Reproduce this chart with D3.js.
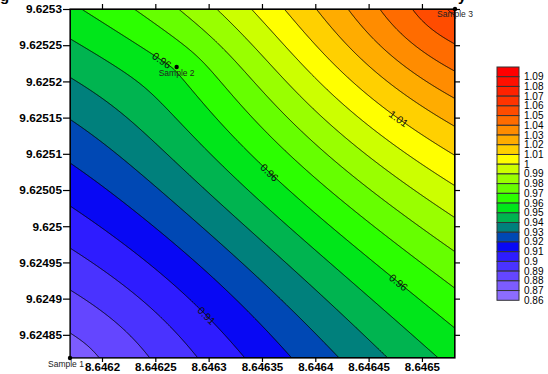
<!DOCTYPE html>
<html><head><meta charset="utf-8">
<script src="https://cdn.jsdelivr.net/npm/d3@7"></script>
<style>
body{margin:0;background:#fff;}
svg{display:block;font-family:"Liberation Sans",Arial,sans-serif;}
</style>
</head><body>
<svg id="chart" width="548" height="374"></svg>
<script>
// ---------- data ----------
const sampleNames = ["Sample 1", "Sample 2", "Sample 3"];
const sampleX = [8.64617, 8.64627, 8.646531];
const sampleY = [9.624818, 9.62522, 9.6253];
const sampleZ = [0.8748, 0.9612, 1.0619];

const levels = [0.86,0.87,0.88,0.89,0.90,0.91,0.92,0.93,0.94,0.95,0.96,0.97,0.98,0.99,1.00,1.01,1.02,1.03,1.04,1.05,1.06,1.07,1.08,1.09];
const levelColors = ["#8c6cff","#7c5cff","#6446ff","#4a33ff","#2e1cff","#0808f4","#0048b4","#00807c","#00b450","#00e61a",
  "#2cff00","#66ff00","#99ff00","#ccff00","#ffff00","#ffd000","#ffac00","#ff8c00","#ff6c00","#ff4c00",
  "#ff3400","#ff2200","#ff1000","#ff0000"];

const xTicks = [8.6462, 8.64625, 8.6463, 8.64635, 8.6464, 8.64645, 8.6465];
const xTickLabels = ["8.6462","8.64625","8.6463","8.64635","8.6464","8.64645","8.6465"];
const yTicks = [9.6253, 9.62525, 9.6252, 9.62515, 9.6251, 9.62505, 9.625, 9.62495, 9.6249, 9.62485];
const yTickLabels = ["9.6253","9.62525","9.6252","9.62515","9.6251","9.62505","9.625","9.62495","9.6249","9.62485"];

const contourLabelValues = [0.96, 0.96, 0.96, 1.01, 0.91];
const contourLabelX = [8.646256, 8.646357, 8.646478, 8.646478, 8.646298];

const variogramPower = 1.3; // kriging variogram: gamma(h) = h^p

// ---------- layout ----------
const L = 70, R = 455, T = 9, B = 358;
const svg = d3.select("#chart");
const x = d3.scaleLinear().domain([d3.min(sampleX), d3.max(sampleX)]).range([L, R]);
const y = d3.scaleLinear().domain([d3.min(sampleY), d3.max(sampleY)]).range([B, T]);

// ---------- ordinary kriging ----------
const ox = d3.min(sampleX), oy = d3.min(sampleY), k = 1e5;
const P = sampleX.map((v,i)=>[(v-ox)*k, (sampleY[i]-oy)*k]);
const n = P.length;
const gam = (ax,ay,bx,by)=>Math.pow(Math.hypot(ax-bx, ay-by), variogramPower);
const A = [], rhs = [];
for (let i=0;i<=n;i++){ A.push([]); for (let j=0;j<=n;j++){
  if (i<n && j<n) A[i].push(gam(P[i][0],P[i][1],P[j][0],P[j][1]));
  else if (i===n && j===n) A[i].push(0); else A[i].push(1);
} rhs.push(i<n ? sampleZ[i] : 0); }
function solve(M, b){
  const m = M.map((r,i)=>r.concat([b[i]])); const N = m.length;
  for (let c=0;c<N;c++){
    let p=c; for(let r=c+1;r<N;r++) if(Math.abs(m[r][c])>Math.abs(m[p][c])) p=r;
    [m[c],m[p]]=[m[p],m[c]];
    for(let r=0;r<N;r++){ if(r===c) continue; const f=m[r][c]/m[c][c]; for(let cc=c;cc<=N;cc++) m[r][cc]-=f*m[c][cc]; }
  }
  return m.map((r,i)=>r[N]/r[i]);
}
const W = solve(A, rhs);
function field(dx, dy){
  const px=(dx-ox)*k, py=(dy-oy)*k; let s=W[n];
  for(let i=0;i<n;i++) s+=W[i]*gam(px,py,P[i][0],P[i][1]);
  return s;
}
const fPx = (px,py)=>field(x.invert(px), y.invert(py));

// ---------- grid & contours ----------
const gw = R-L, gh = B-T;
const values = new Float64Array(gw*gh);
for (let j=0;j<gh;j++) for (let i=0;i<gw;i++) values[j*gw+i] = fPx(L+i+0.5, T+j+0.5);
const contours = d3.contours().size([gw,gh]).thresholds(levels)(values);
const path = d3.geoPath();

const defs = svg.append("defs");
defs.append("clipPath").attr("id","plotclip").append("rect").attr("x",L).attr("y",T).attr("width",gw).attr("height",gh);

const plot = svg.append("g").attr("clip-path","url(#plotclip)");
plot.append("g").attr("transform",`translate(${L},${T})`)
  .selectAll("path").data(contours).join("path")
  .attr("d", path).attr("fill",(d,i)=>levelColors[i]).attr("stroke","none");

const labels = contourLabelValues.map((v,i)=>{
  const px = x(contourLabelX[i]);
  let py = null, prev = fPx(px, T);
  for (let yy=T+0.25; yy<=B; yy+=0.25){ const cur=fPx(px,yy); if((prev-v)*(cur-v)<=0){ py=yy; break;} prev=cur; }
  if (py===null) py=(T+B)/2;
  const e=0.5;
  const gx=(fPx(px+e,py)-fPx(px-e,py))/(2*e), gy=(fPx(px,py+e)-fPx(px,py-e))/(2*e);
  let ang = Math.atan2(-gx, gy)*180/Math.PI;
  if (ang>90) ang-=180; if (ang<-90) ang+=180;
  return {v, px, py, ang, text: String(+v.toFixed(2))};
});

const mask = defs.append("mask").attr("id","lblmask");
mask.append("rect").attr("x",0).attr("y",0).attr("width",548).attr("height",374).attr("fill","#fff");
mask.selectAll("rect.h").data(labels).join("rect").attr("class","h")
  .attr("x",-12).attr("y",-5).attr("width",24).attr("height",10).attr("fill","#000")
  .attr("transform",d=>`translate(${d.px},${d.py}) rotate(${d.ang})`);

plot.append("g").attr("mask","url(#lblmask)").attr("transform",`translate(${L},${T})`)
  .selectAll("path").data(contours.slice(1)).join("path")
  .attr("d", path).attr("fill","none").attr("stroke","#000").attr("stroke-width",0.9);

svg.append("g").selectAll("text").data(labels).join("text")
  .attr("transform",d=>`translate(${d.px},${d.py}) rotate(${d.ang})`)
  .attr("text-anchor","middle").attr("dy","0.35em")
  .attr("font-size",10.5).attr("fill","#111").text(d=>d.text);

// ---------- frame & axes ----------
svg.append("rect").attr("x",L).attr("y",T).attr("width",gw).attr("height",gh)
  .attr("fill","none").attr("stroke","#000").attr("stroke-width",1.2);

const axL = d3.axisLeft(y).tickValues(yTicks).tickFormat((d,i)=>yTickLabels[i]).tickSize(7).tickPadding(1);
const axB = d3.axisBottom(x).tickValues(xTicks).tickFormat((d,i)=>xTickLabels[i]).tickSize(4).tickPadding(1);
const axT = d3.axisTop(x).tickValues(xTicks).tickFormat("").tickSize(5);
const axR = d3.axisRight(y).tickValues(yTicks).tickFormat("").tickSize(5);
function styleAxis(g){
  g.select(".domain").remove();
  g.selectAll(".tick line").attr("stroke","#000").attr("stroke-width",1.2);
  g.selectAll("text").attr("fill","#000").attr("font-weight","bold").attr("font-size",11.8)
   .attr("font-family",'"Liberation Sans",Arial,sans-serif');
}
svg.append("g").attr("transform",`translate(${L},0)`).call(axL).call(styleAxis);
svg.append("g").attr("transform",`translate(0,${B})`).call(axB).call(styleAxis)
  .selectAll("text").attr("dy","0.72em").attr("font-size",11.5);
svg.append("g").attr("transform",`translate(0,${T})`).call(axT).call(styleAxis);
svg.append("g").attr("transform",`translate(${R},0)`).call(axR).call(styleAxis);

// ---------- samples ----------
const sg = svg.append("g");
sg.selectAll("circle").data(sampleNames).join("circle")
  .attr("cx",(d,i)=>x(sampleX[i])).attr("cy",(d,i)=>y(sampleY[i])).attr("r",2.2).attr("fill","#000");
sg.selectAll("text").data(sampleNames).join("text")
  .attr("x",(d,i)=>x(sampleX[i]) - (i===0?4:0)).attr("y",(d,i)=>y(sampleY[i])+(i===2?8:9))
  .attr("text-anchor","middle").attr("font-size",8.5).attr("fill","#222").text(d=>d);

// ---------- legend ----------
const legX = 497, legTop = 67, legW = 22, legH = 9.72;
const leg = svg.append("g");
const rev = levels.map((v,i)=>({v, c: levelColors[i]})).reverse();
leg.selectAll("rect").data(rev).join("rect")
  .attr("x",legX).attr("y",(d,i)=>legTop+i*legH).attr("width",legW).attr("height",legH)
  .attr("fill",d=>d.c).attr("stroke","#333").attr("stroke-width",1);
leg.selectAll("text").data(rev).join("text")
  .attr("x",legX+27).attr("y",(d,i)=>legTop+(i+1)*legH).attr("dy","0.35em")
  .attr("font-size",10).attr("fill","#000").text(d=>String(+d.v.toFixed(2)));

// ---------- title (cut off above the picture) ----------
svg.append("text").attr("x",0).attr("y",1).attr("font-size",15).attr("font-weight","bold").text("g");
svg.append("text").attr("x",458).attr("y",1).attr("font-size",15).attr("font-weight","bold").text("y");
</script>
</body></html>
